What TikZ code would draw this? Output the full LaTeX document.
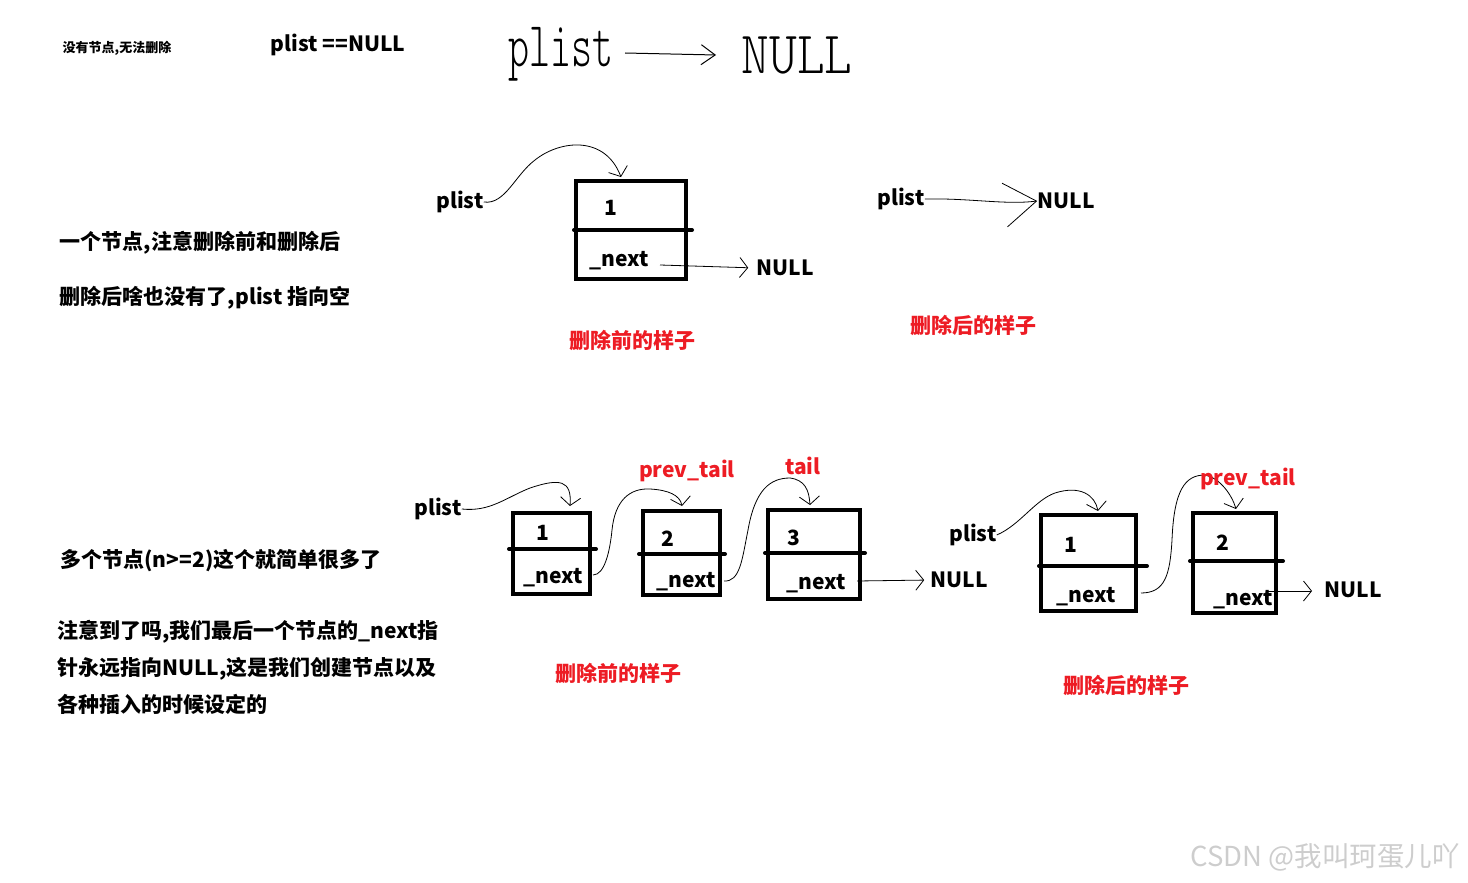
\documentclass[tikz,border=0pt]{standalone}
\usepackage{fontspec}
\setmainfont{Noto Sans CJK SC}
\newfontfamily\hand{lmmonolt10-regular.otf}
\usetikzlibrary{arrows.meta}
\definecolor{redlab}{RGB}{237,28,36}
\definecolor{wm}{RGB}{205,205,205}
\begin{document}
\begin{tikzpicture}[x=1pt,y=-1pt,
  txt/.style={inner sep=0pt, font=\fontsize{21}{25}\selectfont\bfseries},
  smalltxt/.style={inner sep=0pt, font=\fontsize{13}{15}\selectfont\bfseries},
  redtxt/.style={txt, text=redlab},
  box/.style={draw, line width=4pt, inner sep=0pt},
  divider/.style={line width=4pt, line cap=round},
  link/.style={line width=0.8pt, -{Straight Barb[length=8pt,width=20pt,line width=0.8pt]}},
  handtxt/.style={inner sep=0pt, font=\hand\fontsize{40}{40}\selectfont},
]
\useasboundingbox (0,0) rectangle (1468,883);

% ---------- top: no node ----------
\node[smalltxt] (t0) at (117,48) {没有节点,无法删除};
\node[txt] (eq) at (338,45) {plist ==NULL};
\node[handtxt] (hp) at (561,54) {\scalebox{1}[1.6]{plist}};
\node[handtxt] (hn) at (797,56) {\scalebox{1.32}[1.5]{NULL}};
\coordinate (hs) at (625,53);
\coordinate (he) at (716,55);
\draw[line width=1pt, -{Straight Barb[length=14pt,width=20pt,line width=1pt]}] (hs) -- (he);

% ---------- one node ----------
\node[txt] (t1) at (200,243) {一个节点,注意删除前和删除后};
\node[txt] (t2) at (205,298) {删除后啥也没有了,plist 指向空};

\node[txt] (p1) at (460,202) {plist};
\node[box, minimum width=110pt, minimum height=98pt] (b1) at (631,230) {};
\draw[divider] (574,230) -- (692,230);
\node[txt] (v1) at (611,208) {1};
\node[txt] (n1) at (619,261) {\_next};
\node[txt] (null1) at (785,268) {NULL};
\coordinate (b1top) at (621,177);
\coordinate (b1nx) at (660,265);
\draw[link] (p1.east) .. controls (505,205) and (515,175) .. (535,160) .. controls (560,140) and (605,135) .. (b1top);
\draw[link, shorten >=8pt] (b1nx) -- (null1.west);
\node[redtxt] (r1) at (632,340) {删除前的样子};

\node[txt] (p2) at (901,199) {plist};
\node[txt] (null2) at (1066,201) {NULL};
\draw[line width=0.8pt, -{Straight Barb[length=32pt,width=44pt,line width=0.8pt]}] (p2.east) .. controls (970,198) and (1005,205) .. (null2.west);
\node[redtxt] (r2) at (973,325) {删除后的样子};

% ---------- many nodes ----------
\node[txt] (t3) at (221,561) {多个节点(n>=2)这个就简单很多了};
\node[txt, anchor=west] (t4) at (57,632) {注意到了吗,我们最后一个节点的\_next指};
\node[txt, anchor=west] (t5) at (57,669) {针永远指向NULL,这是我们创建节点以及};
\node[txt, anchor=west] (t6) at (57,704) {各种插入的时候设定的};

% before
\node[txt] (p3) at (438,509) {plist};
\node[box, minimum width=77pt, minimum height=81pt] (b3) at (551.5,553.5) {};
\draw[divider] (509,549) -- (596,549);
\node[txt] (v3) at (543,533) {1};
\node[txt] (n3) at (553,578) {\_next};

\node[box, minimum width=77pt, minimum height=84pt] (b4) at (681.5,553) {};
\draw[divider] (639,554) -- (725,554);
\node[txt] (v4) at (668,539) {2};
\node[txt] (n4) at (686,582) {\_next};
\node[redtxt] (pt1) at (687,471) {prev\_tail};

\node[box, minimum width=92pt, minimum height=89pt] (b5) at (814,554.5) {};
\draw[divider] (765,553) -- (865,553);
\node[txt] (v5) at (794,538) {3};
\node[txt] (n5) at (816,584) {\_next};
\node[redtxt] (tl) at (803,466) {tail};
\node[txt] (null3) at (959,580) {NULL};

\coordinate (b3top) at (570,506);
\coordinate (b3nx) at (593,575);
\coordinate (b4top) at (682,506);
\coordinate (b4nx) at (724,581);
\coordinate (b5top) at (810,505);
\coordinate (b5nx) at (857,581);
\draw[link] (p3.east) .. controls (490,512) and (505,498) .. (530,488) .. controls (560,478) and (572,480) .. (b3top);
\draw[link] (b3nx) .. controls (605,575) and (610,550) .. (612,530) .. controls (615,500) and (630,488) .. (650,489) .. controls (668,490) and (680,495) .. (b4top);
\draw[link] (b4nx) .. controls (740,582) and (742,560) .. (748,530) .. controls (755,490) and (770,478) .. (790,478) .. controls (805,480) and (809,490) .. (b5top);
\draw[link, shorten >=6pt] (b5nx) -- (null3.west);
\node[redtxt] (r3) at (618,673) {删除前的样子};

% after
\node[txt] (p4) at (973,535) {plist};
\node[box, minimum width=95pt, minimum height=96pt] (b6) at (1088.5,563) {};
\draw[divider] (1039,566) -- (1147,566);
\node[txt] (v6) at (1071,545) {1};
\node[txt] (n6) at (1086,597) {\_next};

\node[box, minimum width=83pt, minimum height=100pt] (b7) at (1234.5,563) {};
\draw[divider] (1190,561) -- (1283,561);
\node[txt] (v7) at (1223,543) {2};
\node[txt] (n7) at (1243,600) {\_next};
\node[txt] (null4) at (1353,590) {NULL};

\coordinate (b6top) at (1098,511);
\coordinate (b6nx) at (1141,593);
\coordinate (b7top) at (1236,509);
\coordinate (b7nx) at (1266,591);
\coordinate (n4end) at (1312,591);
\draw[link] (p4.east) .. controls (1020,525) and (1035,500) .. (1055,493) .. controls (1080,485) and (1095,495) .. (b6top);
\draw[link] (b6nx) .. controls (1165,593) and (1170,575) .. (1172,540) .. controls (1174,490) and (1185,475) .. (1205,475) .. controls (1220,478) and (1232,495) .. (b7top);
\draw[link] (b7nx) -- (n4end);
\node[redtxt] (pt2) at (1248,479) {prev\_tail};
\node[redtxt] (r4) at (1126,685) {删除后的样子};

% watermark
\node[inner sep=0pt, text=wm, font=\fontsize{27.5}{30}\selectfont] (wmk) at (1325,857) {CSDN @我叫珂蛋儿吖};
\end{tikzpicture}
\end{document}
